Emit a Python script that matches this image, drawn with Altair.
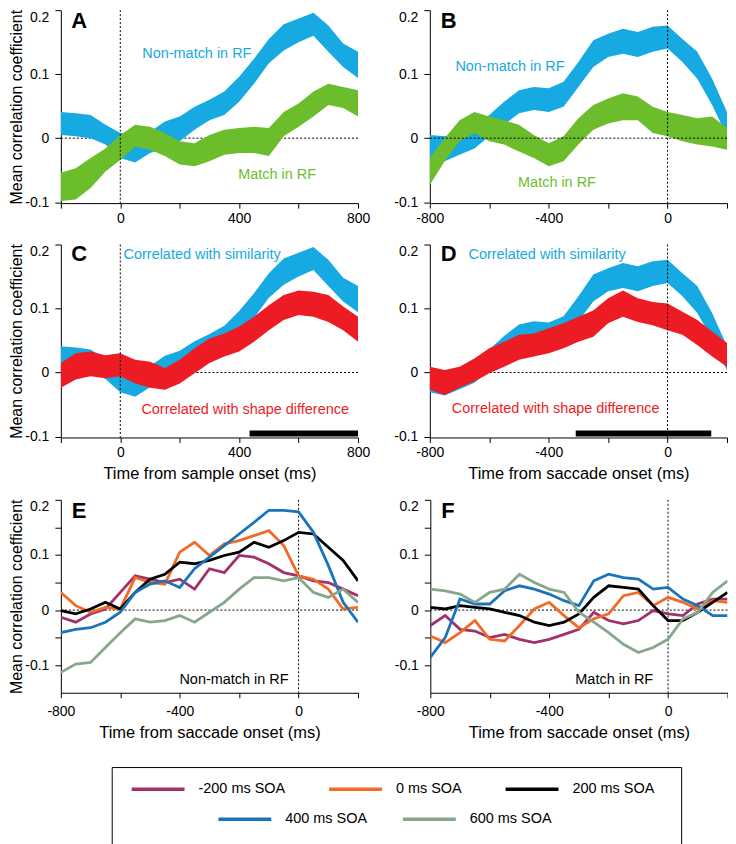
import altair as alt
import pandas as pd

# ---------------- data ----------------
T_SAMPLE = list(range(-200, 801, 50))     # time from sample onset (ms)
T_SACC = list(range(-800, 201, 50))       # time from saccade onset (ms)

# Panel A (sample aligned) – Non-match in RF band (also "Correlated with similarity" in C)
A_NM_HI = [0.041, 0.039, 0.036, 0.021, 0.008, 0.008, 0.010, 0.026, 0.034, 0.049, 0.060,
           0.073, 0.096, 0.124, 0.155, 0.178, 0.187, 0.196, 0.176, 0.148, 0.135]
A_NM_LO = [0.005, 0.003, 0.000, -0.010, -0.031, -0.038, -0.023, -0.016, -0.005, 0.013, 0.028,
           0.036, 0.057, 0.085, 0.117, 0.137, 0.150, 0.160, 0.135, 0.111, 0.094]
# Panel A – Match in RF band
A_M_HI = [-0.054, -0.047, -0.031, -0.016, 0.005, 0.021, 0.018, 0.008, -0.005, -0.008, 0.005,
          0.013, 0.016, 0.018, 0.016, 0.041, 0.054, 0.073, 0.085, 0.080, 0.075]
A_M_LO = [-0.098, -0.096, -0.078, -0.052, -0.034, -0.013, -0.018, -0.028, -0.041, -0.044, -0.036,
          -0.026, -0.023, -0.023, -0.028, 0.003, 0.018, 0.034, 0.052, 0.047, 0.034]
# Panel B (saccade aligned) – Non-match in RF band (also "Correlated with similarity" in D)
B_NM_HI = [0.005, 0.003, 0.008, 0.021, 0.036, 0.057, 0.075, 0.080, 0.078, 0.088, 0.119,
           0.153, 0.163, 0.171, 0.166, 0.174, 0.176, 0.155, 0.135, 0.093, 0.041]
B_NM_LO = [-0.031, -0.036, -0.026, -0.016, 0.003, 0.021, 0.039, 0.044, 0.041, 0.049, 0.080,
           0.111, 0.127, 0.132, 0.127, 0.135, 0.140, 0.119, 0.093, 0.052, 0.003]
# Panel B – Match in RF band
B_M_HI = [-0.031, 0.000, 0.028, 0.041, 0.034, 0.028, 0.021, 0.005, -0.008, 0.003, 0.031,
          0.052, 0.062, 0.070, 0.065, 0.049, 0.041, 0.036, 0.031, 0.034, 0.016]
B_M_LO = [-0.073, -0.036, -0.005, 0.008, -0.005, -0.010, -0.021, -0.031, -0.044, -0.036, -0.010,
          0.013, 0.023, 0.028, 0.028, 0.008, 0.003, -0.005, -0.010, -0.013, -0.018]
# Panel C – Correlated with shape difference band
C_SD_HI = [0.015, 0.030, 0.033, 0.027, 0.030, 0.020, 0.017, 0.007, 0.020, 0.038, 0.053,
           0.061, 0.072, 0.087, 0.105, 0.121, 0.128, 0.126, 0.121, 0.103, 0.087]
C_SD_LO = [-0.024, -0.011, -0.006, -0.009, -0.006, -0.017, -0.024, -0.027, -0.017, -0.001, 0.015,
           0.025, 0.033, 0.048, 0.066, 0.082, 0.090, 0.087, 0.079, 0.066, 0.048]
# Panel D – Correlated with shape difference band
D_SD_HI = [0.009, 0.004, 0.009, 0.022, 0.038, 0.048, 0.059, 0.061, 0.069, 0.077, 0.087,
           0.097, 0.116, 0.128, 0.116, 0.110, 0.108, 0.095, 0.082, 0.064, 0.046]
D_SD_LO = [-0.027, -0.035, -0.024, -0.014, -0.001, 0.009, 0.020, 0.025, 0.030, 0.038, 0.048,
           0.056, 0.077, 0.087, 0.079, 0.074, 0.066, 0.059, 0.043, 0.025, 0.009]

# Significance bars (C, D)
C_BAR = [435, 800]
D_BAR = [-309, 147]

SOA = ["-200 ms SOA", "0 ms SOA", "200 ms SOA", "400 ms SOA", "600 ms SOA"]
SOA_COLORS = ["#a3306c", "#f26a24", "#000000", "#1b74ba", "#86a78b"]

# Panel E – Non-match in RF, per SOA
E_LINES = {
    "-200 ms SOA": [-0.013, -0.022, -0.007, 0.002, 0.032, 0.062, 0.056, 0.050, 0.056, 0.038, 0.075,
                    0.068, 0.099, 0.096, 0.084, 0.068, 0.062, 0.053, 0.050, 0.038, 0.026],
    "0 ms SOA": [0.032, 0.008, -0.004, 0.005, 0.002, 0.059, 0.050, 0.047, 0.105, 0.123, 0.099,
                 0.120, 0.126, 0.135, 0.144, 0.117, 0.062, 0.056, 0.038, 0.002, 0.005],
    "200 ms SOA": [-0.001, -0.007, 0.002, 0.014, 0.002, 0.032, 0.056, 0.065, 0.087, 0.084, 0.090,
                   0.099, 0.105, 0.123, 0.114, 0.126, 0.141, 0.138, 0.114, 0.090, 0.053],
    "400 ms SOA": [-0.041, -0.035, -0.032, -0.022, -0.004, 0.032, 0.047, 0.053, 0.041, 0.075, 0.096,
                   0.117, 0.138, 0.159, 0.181, 0.181, 0.178, 0.141, 0.081, 0.014, -0.022],
    "600 ms SOA": [-0.113, -0.098, -0.095, -0.068, -0.041, -0.016, -0.022, -0.019, -0.010, -0.022, -0.004,
                   0.014, 0.038, 0.059, 0.059, 0.053, 0.059, 0.032, 0.023, 0.038, 0.014],
}
# Panel F – Match in RF, per SOA
F_LINES = {
    "-200 ms SOA": [-0.028, -0.010, -0.035, -0.038, -0.050, -0.044, -0.053, -0.059, -0.053, -0.044, -0.035,
                    -0.004, -0.019, -0.025, -0.019, -0.001, -0.007, -0.010, 0.011, 0.020, 0.020],
    "0 ms SOA": [-0.047, -0.059, -0.041, -0.019, -0.053, -0.056, -0.028, 0.002, 0.014, -0.010, -0.032,
                 -0.016, -0.007, 0.026, 0.032, 0.008, 0.023, 0.014, 0.002, 0.017, 0.014],
    "200 ms SOA": [0.005, 0.002, 0.008, 0.005, 0.002, -0.004, -0.010, -0.022, -0.028, -0.022, -0.007,
                   0.023, 0.044, 0.041, 0.038, 0.008, -0.019, -0.019, -0.004, 0.014, 0.032],
    "400 ms SOA": [-0.086, -0.050, 0.020, 0.011, 0.011, 0.035, 0.044, 0.038, 0.029, 0.017, 0.008,
                   0.053, 0.065, 0.059, 0.056, 0.038, 0.041, 0.020, 0.008, -0.010, -0.010],
    "600 ms SOA": [0.038, 0.035, 0.029, 0.014, 0.032, 0.038, 0.065, 0.050, 0.038, 0.032, -0.004,
                   -0.022, -0.041, -0.062, -0.077, -0.068, -0.053, -0.016, -0.004, 0.032, 0.053],
}

BLUE = "#17a9e1"
GREEN = "#6cbd2c"
RED = "#ed1c24"
FONT = "Liberation Sans"

# Annotations: (text, time, value, colour)
ANN = {
    "A": [("Non-match in RF", 74, 0.131, BLUE), ("Match in RF", 397, -0.057, GREEN)],
    "B": [("Non-match in RF", -714, 0.111, BLUE), ("Match in RF", -503, -0.070, GREEN)],
    "C": [("Correlated with similarity", 11, 0.184, BLUE),
          ("Correlated with shape difference", 71, -0.058, RED)],
    "D": [("Correlated with similarity", -670, 0.184, BLUE),
          ("Correlated with shape difference", -726, -0.057, RED)],
    "E": [("Non-match in RF", -401, -0.127, "#000000")],
    "F": [("Match in RF", -312, -0.127, "#000000")],
}
LETTER_POS = {"A": (-165, 0.183), "B": (-763, 0.183), "C": (-165, 0.185),
              "D": (-763, 0.185), "E": (-763, 0.180), "F": (-763, 0.180)}

W, H = 298, 193.5

XLAB = ("datum.value % 400 == 0 ? (datum.value < 0 ? '-' + (-datum.value) : '' + datum.value) : ''")
YLAB = ("datum.value == 0 ? '0' : (abs(datum.value*10 - round(datum.value*10)) < 0.001 ? "
        "(datum.value < 0 ? '-' + format(-datum.value, '.1f') : format(datum.value, '.1f')) : '')")


def xe(domain, title, lab_pad):
    return alt.X("t:Q",
                 scale=alt.Scale(domain=domain, nice=False, zero=False),
                 axis=alt.Axis(values=list(range(domain[0], domain[1] + 1, 200)), labelExpr=XLAB,
                               title=title, tickSize=5, labelPadding=lab_pad, titlePadding=6,
                               labelFlush=False))


def ye(domain, values, title):
    return alt.Y("v:Q",
                 scale=alt.Scale(domain=domain, nice=False, zero=False),
                 axis=alt.Axis(values=values, labelExpr=YLAB, title=title, tickSize=6,
                               labelPadding=6, titlePadding=0, labelFlush=0.5))


def band(t, lo, hi, color, x, y):
    df = pd.DataFrame({"t": t, "v": lo, "v2": hi})
    return alt.Chart(df).mark_area(color=color, opacity=1, clip=True).encode(
        x=x, y=y, y2="v2:Q")


def rules(x, y):
    st = dict(color="black", strokeWidth=1, strokeDash=[2, 2])
    v = alt.Chart(pd.DataFrame({"t": [0]})).mark_rule(**st).encode(x=x)
    h = alt.Chart(pd.DataFrame({"v": [0]})).mark_rule(**st).encode(y=y)
    return v, h


def texts(key, x, y):
    layers = []
    for txt, t, v, col in ANN[key]:
        df = pd.DataFrame({"t": [t], "v": [v], "lab": [txt]})
        layers.append(alt.Chart(df).mark_text(align="left", baseline="middle", fontSize=14.5,
                                              font=FONT, color=col).encode(x=x, y=y, text="lab:N"))
    lt, lv = LETTER_POS[key]
    ldf = pd.DataFrame({"t": [lt], "v": [lv], "lab": [key]})
    layers.append(alt.Chart(ldf).mark_text(align="left", baseline="middle", fontSize=22,
                                           fontWeight="bold", font=FONT, color="black").encode(
        x=x, y=y, text="lab:N"))
    return layers


def bar(rng, x, y):
    df = pd.DataFrame({"t": [rng[0]], "t2": [rng[1]], "v": [-0.1], "v2": [-0.0905]})
    return alt.Chart(df).mark_rect(color="black").encode(x=x, x2="t2:Q", y=y, y2="v2:Q")


YTITLE = "Mean correlation coefficient"
Y_TOP = [-0.1, 0.0, 0.1, 0.2]
Y_BOT = [-0.1, -0.05, 0.0, 0.05, 0.1, 0.15, 0.2]
DOM_TOP = [-0.1015, 0.2]
DOM_BOT = [-0.15, 0.2]

# ---- Panel A ----
xa = xe([-200, 800], None, 3)
ya = ye(DOM_TOP, Y_TOP, YTITLE)
va, ha = rules(xa, ya)
pA = alt.layer(ha, band(T_SAMPLE, A_NM_LO, A_NM_HI, BLUE, xa, ya),
               band(T_SAMPLE, A_M_LO, A_M_HI, GREEN, xa, ya), va,
               *texts("A", xa, ya)).properties(width=W, height=H)

# ---- Panel B ----
xb = xe([-800, 200], None, 3)
yb = ye(DOM_TOP, Y_TOP, None)
vb, hb = rules(xb, yb)
pB = alt.layer(band(T_SACC, B_NM_LO, B_NM_HI, BLUE, xb, yb),
               band(T_SACC, B_M_LO, B_M_HI, GREEN, xb, yb), hb, vb,
               *texts("B", xb, yb)).properties(width=W, height=H)

# ---- Panel C ----
xc = xe([-200, 800], "Time from sample onset (ms)", 3)
yc = ye(DOM_TOP, Y_TOP, YTITLE)
vc, hc = rules(xc, yc)
pC = alt.layer(hc, band(T_SAMPLE, A_NM_LO, A_NM_HI, BLUE, xc, yc),
               band(T_SAMPLE, C_SD_LO, C_SD_HI, RED, xc, yc), vc, bar(C_BAR, xc, yc),
               *texts("C", xc, yc)).properties(width=W, height=H)

# ---- Panel D ----
xd = xe([-800, 200], "Time from saccade onset (ms)", 3)
yd = ye(DOM_TOP, Y_TOP, None)
vd, hd = rules(xd, yd)
pD = alt.layer(hd, band(T_SACC, B_NM_LO, B_NM_HI, BLUE, xd, yd),
               band(T_SACC, D_SD_LO, D_SD_HI, RED, xd, yd), vd, bar(D_BAR, xd, yd),
               *texts("D", xd, yd)).properties(width=W, height=H)


# ---- Panels E / F ----
def lines_df(d, names):
    rows = []
    for s in names:
        for t, v in zip(T_SACC, d[s]):
            rows.append({"t": t, "v": v, "s": s})
    return pd.DataFrame(rows)


color_scale = alt.Scale(domain=SOA[:3], range=SOA_COLORS[:3])
stroke_scale = alt.Scale(domain=SOA[3:], range=SOA_COLORS[3:])
LEG = dict(orient="none", direction="horizontal", title=None, symbolType="stroke",
           symbolSize=2809, symbolStrokeWidth=3.5, labelFontSize=14.5, labelFont=FONT,
           labelColor="black", labelOffset=12, padding=0, gridAlign="none")
leg1 = alt.Legend(legendX=69, legendY=752.8, columnPadding=36, **LEG)
leg2 = alt.Legend(legendX=156, legendY=782.8, columnPadding=28, **LEG)


def soa_panel(key, d, ytitle):
    x = xe([-800, 200], "Time from saccade onset (ms)", 7)
    y = ye(DOM_BOT, Y_BOT, ytitle)
    v, h = rules(x, y)
    l1 = alt.Chart(lines_df(d, SOA[:3])).mark_line(strokeWidth=2.8, clip=True).encode(
        x=x, y=y, color=alt.Color("s:N", scale=color_scale, legend=leg1, sort=SOA[:3]))
    l2 = alt.Chart(lines_df(d, SOA[3:])).mark_line(strokeWidth=2.8, clip=True).encode(
        x=x, y=y, stroke=alt.Stroke("s:N", scale=stroke_scale, legend=leg2, sort=SOA[3:]))
    return alt.layer(h, v, l1, l2, *texts(key, x, y)).properties(width=W, height=H)


pE = soa_panel("E", E_LINES, YTITLE)
pF = soa_panel("F", F_LINES, None)

# ---- Legend frame ----
spacer = alt.Chart(pd.DataFrame({"a": [0]})).mark_point(opacity=0).encode(
    x=alt.value(0), y=alt.value(0)).properties(width=47, height=10)
frame = alt.Chart(pd.DataFrame({"a": [0]})).mark_point(opacity=0).encode(
    x=alt.value(0), y=alt.value(0)).properties(
    width=571, height=79, view=alt.ViewBackground(stroke="black", strokeWidth=1))

row1 = alt.hconcat(pA, pB, spacing=23)
row2 = alt.hconcat(pC, pD, spacing=23)
row3 = alt.hconcat(pE, pF, spacing=34.5)
grid = alt.vconcat(row1, row2, row3, spacing=17)
frame_row = alt.hconcat(spacer, frame, spacing=0)

chart = alt.vconcat(grid, frame_row, spacing=22).properties(
    padding={"left": 0, "top": 0, "right": 0, "bottom": 0}
).configure(font=FONT).configure_view(stroke=None).configure_axis(
    grid=False, domainColor="black", domainWidth=1, tickColor="black", tickWidth=1,
    labelColor="black", labelFontSize=14, labelFont=FONT, titleColor="black",
    titleFontSize=16, titleFontWeight="normal", titleFont=FONT
).configure_axisX(titleFontSize=16.5)

chart.save("out.html", embed_options={"renderer": "svg", "actions": False})
